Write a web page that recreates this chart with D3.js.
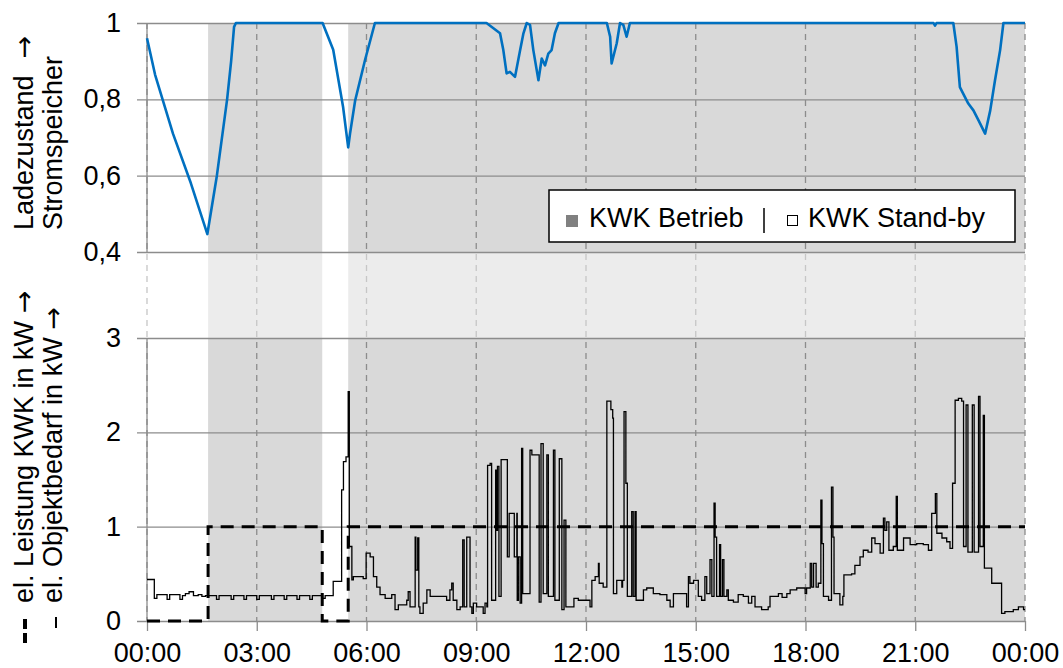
<!DOCTYPE html>
<html><head><meta charset="utf-8">
<script src="https://cdn.jsdelivr.net/npm/d3@7"></script>
<style>
html,body{margin:0;padding:0;background:#fff;}
svg{display:block;font-family:"Liberation Sans",Arial,sans-serif;}
</style></head>
<body><svg id="c" width="1063" height="668"></svg>
<script>
// ---- data ----
const timeTicks = [0,3,6,9,12,15,18,21,24];
const timeLabels = ["00:00","03:00","06:00","09:00","12:00","15:00","18:00","21:00","00:00"];
const socTicks = [0.4,0.6,0.8,1];
const loadTicks = [0,1,2,3];
// KWK operating periods (hours)
const betriebPeriods = [[1.67,4.79],[5.5,24]];
// KWK electric power (step, kW)
const kwkPoints = [[0,0],[1.67,1],[4.79,0],[5.5,1],[24,1]];
// state of charge of battery
const socPoints = [[0,0.96],[0.22,0.865],[0.71,0.71],[1.2,0.58],[1.65,0.447],[1.91,0.60],[2.19,0.80],[2.30,0.90],[2.38,0.99],[2.43,1],
 [4.80,1],[5.09,0.93],[5.36,0.78],[5.50,0.674],[5.55,0.71],[5.69,0.797],[5.96,0.903],[6.23,1],
 [9.28,1],[9.47,0.986],[9.65,0.973],[9.74,0.929],[9.83,0.868],[9.92,0.872],[10.06,0.859],[10.20,0.929],[10.29,0.973],[10.38,1],
 [10.47,0.995],[10.56,0.929],[10.70,0.85],[10.79,0.907],[10.88,0.889],[10.97,0.92],[11.06,0.929],[11.15,0.973],[11.25,1],
 [12.57,1],[12.66,0.964],[12.70,0.894],[12.84,0.947],[12.93,1],[13.02,0.995],[13.11,0.964],[13.20,1],
 [21.50,1],[21.54,0.993],[21.58,1],[22.04,1],[22.13,0.938],[22.22,0.832],[22.31,0.815],[22.45,0.789],[22.59,0.771],
 [22.73,0.745],[22.91,0.71],[23.05,0.771],[23.18,0.85],[23.32,0.929],[23.41,1],[24,1]];
// electric demand of the building (step, kW)
const loadPoints = [[0,0.44],[0.2,0.24],[0.27,0.28],[0.55,0.23],[0.62,0.28],[0.9,0.23],[0.97,0.27],[1.05,0.29],[1.15,0.31],[1.27,0.27],
 [1.4,0.28],[1.5,0.26],[1.6,0.27],[1.9,0.23],[1.97,0.27],[2.3,0.23],[2.37,0.27],[2.65,0.23],[2.72,0.27],[3.0,0.23],[3.07,0.27],
 [3.4,0.23],[3.47,0.27],[3.75,0.23],[3.82,0.27],[4.1,0.23],[4.17,0.27],[4.45,0.23],[4.52,0.27],[4.8,0.24],[4.87,0.27],
 [5.09,0.42],[5.32,1.39],[5.37,1.69],[5.44,1.74],[5.50,2.43],[5.53,0.79],[5.60,0.435],[5.64,0.47],[5.91,0.45],[5.99,0.72],
 [6.10,0.68],[6.19,0.47],[6.28,0.36],[6.37,0.28],[6.51,0.24],[6.69,0.28],[6.78,0.12],[6.87,0.17],[7.10,0.22],[7.14,0.31],
 [7.19,0.15],[7.33,0.89],[7.35,0.54],[7.40,0.88],[7.43,0.15],[7.46,0.08],[7.55,0.19],[7.65,0.33],[7.74,0.26],[8.19,0.22],
 [8.28,0.33],[8.33,0.40],[8.37,0.22],[8.47,0.12],[8.56,0.15],[8.63,0.86],[8.67,0.15],[8.74,0.89],[8.83,0.15],[8.88,0.08],
 [8.92,0.19],[9.01,0.15],[9.19,0.08],[9.24,0.19],[9.29,0.15],[9.31,1.65],[9.38,1.67],[9.42,0.22],[9.53,1.6],[9.56,0.96],
 [9.58,1.64],[9.62,0.26],[9.68,1.71],[9.85,0.68],[9.90,1.14],[10.04,0.68],[10.11,1.14],[10.12,0.22],[10.15,0.68],[10.20,0.19],
 [10.24,1.83],[10.27,0.29],[10.47,1.81],[10.52,1.76],[10.72,0.20],[10.77,1.88],[10.83,0.29],[10.93,1.76],[10.97,0.26],
 [11.11,1.81],[11.15,0.22],[11.27,1.72],[11.34,0.12],[11.40,1.07],[11.45,0.15],[11.67,0.24],[11.79,0.22],[12.11,0.15],
 [12.16,0.43],[12.25,0.47],[12.34,0.61],[12.36,0.40],[12.47,0.36],[12.57,2.33],[12.68,2.24],[12.73,2.15],[12.75,0.29],
 [12.84,0.43],[12.98,0.36],[13.00,0.43],[13.04,2.22],[13.09,1.46],[13.13,0.26],[13.25,1.16],[13.29,0.26],[13.34,1.16],
 [13.37,0.22],[13.57,0.33],[13.66,0.35],[13.84,0.29],[14.02,0.28],[14.21,0.22],[14.30,0.15],[14.39,0.29],[14.75,0.15],
 [14.80,0.47],[14.84,0.40],[14.94,0.43],[15.07,0.26],[15.16,0.22],[15.25,0.47],[15.30,0.29],[15.39,0.65],[15.44,0.26],
 [15.50,1.25],[15.53,0.89],[15.57,0.26],[15.65,0.81],[15.68,0.26],[15.73,0.65],[15.77,0.26],[15.85,0.33],[15.89,0.22],
 [16.03,0.20],[16.16,0.28],[16.30,0.26],[16.44,0.19],[16.53,0.26],[16.62,0.15],[16.80,0.12],[16.98,0.15],[17.03,0.26],
 [17.26,0.29],[17.36,0.25],[17.49,0.29],[17.58,0.33],[17.76,0.35],[17.99,0.29],[18.03,0.35],[18.13,0.61],[18.17,0.36],
 [18.22,0.61],[18.29,0.36],[18.35,0.40],[18.42,1.28],[18.45,0.82],[18.49,0.26],[18.63,0.22],[18.71,1.42],[18.75,0.89],
 [18.78,0.29],[18.94,0.17],[19.02,0.26],[19.05,0.49],[19.26,0.50],[19.35,0.59],[19.49,0.68],[19.58,0.75],[19.71,0.73],
 [19.81,0.88],[19.90,0.82],[20.04,0.72],[20.13,1.09],[20.17,0.96],[20.22,1.05],[20.28,0.75],[20.40,0.79],[20.48,1.32],
 [20.51,0.75],[20.68,0.88],[20.86,0.81],[21.04,0.82],[21.22,0.81],[21.36,0.75],[21.45,1.14],[21.55,1.35],[21.59,0.93],
 [21.73,0.88],[21.86,0.84],[21.95,0.77],[22.02,1.46],[22.09,2.34],[22.18,2.36],[22.27,2.33],[22.32,0.79],[22.39,2.29],
 [22.44,0.73],[22.56,2.29],[22.61,0.73],[22.73,2.38],[22.77,0.79],[22.86,2.18],[22.89,0.56],[23.09,0.40],[23.36,0.08],
 [23.45,0.10],[23.68,0.12],[23.82,0.15],[23.96,0.12],[24,0.12]];
const legendItems = ["KWK Betrieb","KWK Stand-by"];

// ---- drawing ----
const svg = d3.select("#c");
const FS = 27;
const x = d3.scaleLinear().domain([0,24]).range([147,1025]);
const yTop = d3.scaleLinear().domain([0.4,1]).range([252,23]);
const yBot = d3.scaleLinear().domain([0,3]).range([621,338]);
const gridCol = "#8c8c8c";

// shading of KWK operation
svg.append("g").selectAll("rect").data(betriebPeriods).join("rect")
  .attr("x", d => x(d[0])).attr("width", d => x(d[1]) - x(d[0]))
  .attr("y", yTop(1)).attr("height", yBot(0) - yTop(1))
  .attr("fill", "#d9d9d9");

// vertical dashed grid
svg.append("g").selectAll("line").data(timeTicks).join("line")
  .attr("x1", d => x(d)).attr("x2", d => x(d))
  .attr("y1", yTop(1)).attr("y2", yBot(0))
  .attr("stroke", gridCol).attr("stroke-width", 1.3).attr("stroke-dasharray", "6,5");

// light band between the two panels
svg.append("rect").attr("x", 130).attr("width", 900)
  .attr("y", yTop(0.4)).attr("height", yBot(3) - yTop(0.4))
  .attr("fill", "#fff").attr("opacity", 0.5);

// left axis lines
svg.append("line").attr("x1",147).attr("x2",147).attr("y1",yTop(1)).attr("y2",yTop(0.4)).attr("stroke",gridCol).attr("stroke-width",1.3);
svg.append("line").attr("x1",147).attr("x2",147).attr("y1",yBot(3)).attr("y2",yBot(0)).attr("stroke",gridCol).attr("stroke-width",1.3);

const fmt = d => String(d).replace(".", ",");
function yAxis(scale, ticks) {
  const g = svg.append("g").attr("transform", "translate(137,0)")
    .call(d3.axisLeft(scale).tickValues(ticks).tickFormat(fmt)
      .tickSizeInner(-(1025 - 137)).tickSizeOuter(0).tickPadding(16));
  g.select(".domain").remove();
  g.selectAll(".tick line").attr("stroke", gridCol).attr("stroke-width", 1.3);
  g.selectAll(".tick text").attr("font-size", FS).attr("fill", "#000")
    .attr("font-family", "Liberation Sans, Arial, sans-serif");
}
yAxis(yTop, socTicks);
yAxis(yBot, loadTicks);

const xg = svg.append("g").attr("transform", `translate(0,${yBot(0)})`)
  .call(d3.axisBottom(x).tickValues(timeTicks).tickFormat((d,i) => timeLabels[i])
    .tickSizeInner(10).tickSizeOuter(0).tickPadding(12));
xg.select(".domain").remove();
xg.selectAll(".tick line").attr("stroke", gridCol).attr("stroke-width", 1.3);
xg.selectAll(".tick text").attr("font-size", FS).attr("fill", "#000")
  .attr("font-family", "Liberation Sans, Arial, sans-serif");

// load line
svg.append("path").datum(loadPoints)
  .attr("d", d3.line().x(d => x(d[0])).y(d => yBot(d[1])).curve(d3.curveStepAfter))
  .attr("fill", "none").attr("stroke", "#000").attr("stroke-width", 1.3);

// KWK power (dashed)
svg.append("path").datum(kwkPoints)
  .attr("d", d3.line().x(d => x(d[0])).y(d => yBot(d[1])).curve(d3.curveStepAfter))
  .attr("fill", "none").attr("stroke", "#000").attr("stroke-width", 3)
  .attr("stroke-dasharray", "13,8");

// SOC line
svg.append("path").datum(socPoints)
  .attr("d", d3.line().x(d => x(d[0])).y(d => yTop(d[1])))
  .attr("fill", "none").attr("stroke", "#0070c0").attr("stroke-width", 2.6)
  .attr("stroke-linejoin", "round");

// legend
const lg = svg.append("g");
lg.append("rect").attr("x", 549).attr("y", 190).attr("width", 466).attr("height", 52)
  .attr("fill", "#fff").attr("stroke", "#000").attr("stroke-width", 1.5);
lg.append("rect").attr("x", 566).attr("y", 215).attr("width", 12).attr("height", 12).attr("fill", "#808080");
lg.append("text").attr("x", 589).attr("y", 227).attr("font-size", FS).text(legendItems[0]);
lg.append("line").attr("x1", 764).attr("x2", 764).attr("y1", 208).attr("y2", 233).attr("stroke", "#000").attr("stroke-width", 1.5);
lg.append("rect").attr("x", 787.5).attr("y", 215.5).attr("width", 10).attr("height", 10).attr("fill", "#fff").attr("stroke", "#000").attr("stroke-width", 1);
lg.append("text").attr("x", 808).attr("y", 227).attr("font-size", FS).text(legendItems[1]);

// y axis titles
function vtext(px, py, str, gap) {
  const t = svg.append("text").attr("transform", `translate(${px},${py}) rotate(-90)`)
    .attr("font-size", FS).style("white-space", "pre");
  t.append("tspan").text(str);
  if (gap !== undefined) {
    t.append("tspan").attr("dx", gap).attr("font-family", "DejaVu Sans").text("\u2192");
  }
}
vtext(33, 230, "Ladezustand", 17);
vtext(62, 230, "Stromspeicher");
vtext(33, 603, "el. Leistung KWK in kW", 8);
vtext(62, 603, "el. Objektbedarf in kW", 8);
// line-style markers of the bottom titles
svg.append("line").attr("x1", 25).attr("x2", 25).attr("y1", 643).attr("y2", 617)
  .attr("stroke", "#000").attr("stroke-width", 4).attr("stroke-dasharray", "10,4");
svg.append("line").attr("x1", 56).attr("x2", 56).attr("y1", 628).attr("y2", 617)
  .attr("stroke", "#000").attr("stroke-width", 2);
</script></body></html>
